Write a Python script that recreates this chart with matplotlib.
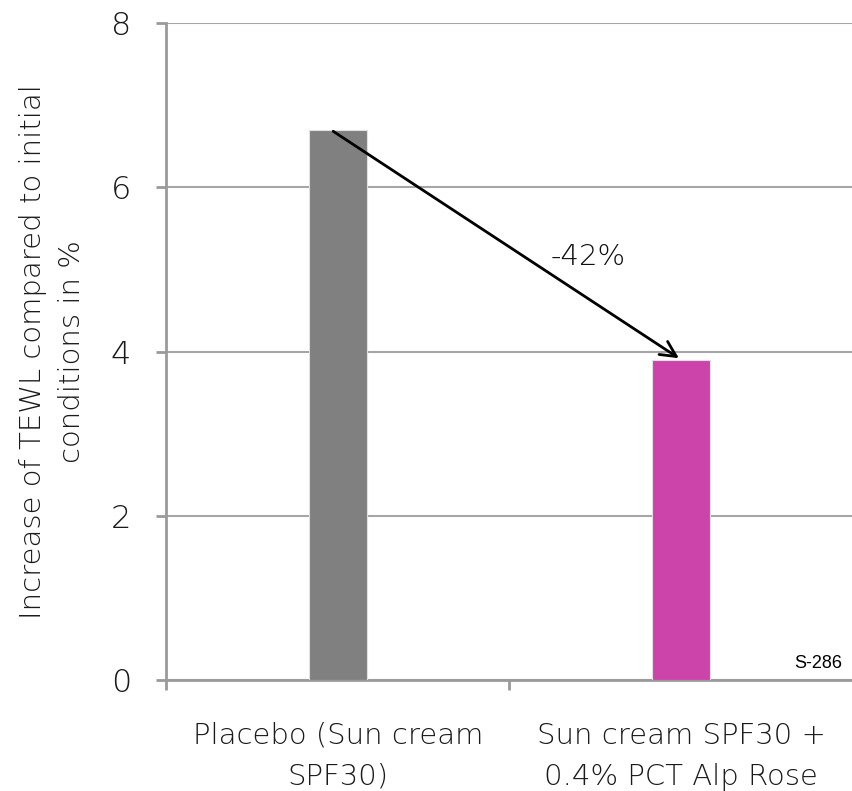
import matplotlib
matplotlib.use("Agg")
import matplotlib.pyplot as plt

categories = ["Placebo (Sun cream\nSPF30)", "Sun cream SPF30 +\n0.4% PCT Alp Rose"]
values = [6.7, 3.9]
colors = ["#808080", "#CC44AA"]
change_label = "-42%"
yticks = [0, 2, 4, 6, 8]

plt.rcParams['font.family'] = ['DejaVu Sans']
plt.rcParams['font.weight'] = 'light'
text_col = "#1A1A1A"
axis_col = "#9A9A9A"

fig = plt.figure(figsize=(8.53, 7.91), dpi=100)
ax = fig.add_axes([0.1946, 0.1403, 0.8054, 0.8306])

x = list(range(len(categories)))
ax.bar(x, values, width=0.17, color=colors, edgecolor="#E0E0E0", linewidth=0.8, zorder=3)

ax.set_xlim(-0.5, 1.485)
ax.set_ylim(0, 8)
ax.set_yticks(yticks)
ax.set_yticklabels([str(t) for t in yticks], fontsize=23, color=text_col)
ax.yaxis.grid(True, color="#A6A6A6", linewidth=1.5, zorder=0)
ax.set_axisbelow(True)

ax.set_xticks(x)
ax.set_xticklabels(categories, fontsize=21, color=text_col, linespacing=1.6)
ax.set_xticks([-0.5, 0.5, 1.5], minor=True)
ax.tick_params(axis='x', which='major', length=0, pad=30)
ax.tick_params(axis='x', which='minor', length=7, width=2, color=axis_col)
ax.tick_params(axis='y', length=7, width=2, color=axis_col, pad=18)

for s in ["top", "right"]:
    ax.spines[s].set_visible(False)
for s in ["left", "bottom"]:
    ax.spines[s].set_color(axis_col)
    ax.spines[s].set_linewidth(2)

ax.set_ylabel("Increase of TEWL compared to initial\nconditions in %", fontsize=21,
              weight="light", color=text_col, labelpad=18, linespacing=1.5)

# arrow from top of placebo bar to top of active bar
ax.annotate("", xy=(x[1], values[1]), xytext=(x[0] - 0.02, values[0]),
            arrowprops=dict(arrowstyle="->", color="black", lw=2, mutation_scale=28),
            zorder=5)
ax.text(0.73, 5.15, change_label, fontsize=21, color="#101010", ha="center", va="center")

ax.text(1.47, 0.1, "S-286", fontsize=13, family="Liberation Sans", weight="normal",
        color="black", ha="right", va="bottom")

fig.savefig("out.png", dpi=100)
